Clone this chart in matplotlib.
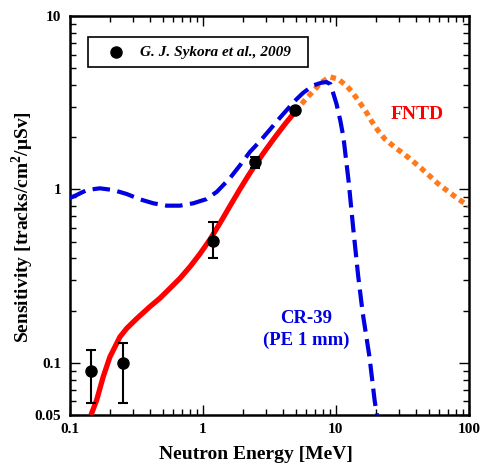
import matplotlib
matplotlib.use("Agg")
import matplotlib.pyplot as plt
from matplotlib.patches import Rectangle
from matplotlib.ticker import FixedLocator, FixedFormatter, LogLocator, NullFormatter

plt.rcParams['font.family'] = ['Liberation Serif', 'DejaVu Serif']
plt.rcParams['mathtext.fontset'] = 'custom'
plt.rcParams['mathtext.rm'] = 'Liberation Serif:bold'
plt.rcParams['mathtext.bf'] = 'Liberation Serif:bold'

# FNTD response, fitted region (solid)
fntd_fit_E = [0.145, 0.160, 0.179, 0.201, 0.239, 0.269, 0.320, 0.402, 0.478, 0.568,
              0.675, 0.803, 0.954, 1.134, 1.349, 1.60, 1.90, 2.20, 2.49, 2.94, 3.49,
              4.15, 4.95]
fntd_fit_S = [0.050, 0.061, 0.083, 0.108, 0.141, 0.158, 0.180, 0.211, 0.236, 0.269,
              0.307, 0.358, 0.425, 0.514, 0.639, 0.800, 1.000, 1.20, 1.39, 1.67, 2.00,
              2.38, 2.81]

# FNTD response, extrapolated region (dotted)
fntd_ext_E = [4.95, 5.9, 6.8, 7.7, 9.0, 10.4, 12.1, 13.5, 15.2, 17.0, 18.6, 20.8, 23.4,
              28.0, 32.5, 37.7, 44.0, 51.0, 58.5, 69.0, 80.0, 93.0, 100.0]
fntd_ext_S = [2.81, 3.30, 3.70, 4.12, 4.46, 4.33, 3.95, 3.58, 3.15, 2.78, 2.47, 2.18,
              1.95, 1.74, 1.60, 1.46, 1.32, 1.19, 1.08, 0.98, 0.90, 0.83, 0.80]

# CR-39 with 1 mm polyethylene radiator
cr39_E = [0.100, 0.113, 0.135, 0.169, 0.213, 0.269, 0.338, 0.426, 0.536, 0.675, 0.851,
          1.07, 1.28, 1.60, 1.91, 2.27, 2.70, 3.21, 3.82, 4.54, 5.04, 5.67, 6.76, 7.85,
          8.5, 9.1, 9.55, 10.1, 10.8, 11.4, 12.5, 13.5, 14.7, 15.9, 17.9, 19.6, 20.4]
cr39_S = [0.890, 0.928, 0.992, 1.015, 0.992, 0.941, 0.877, 0.832, 0.806, 0.806, 0.832,
          0.880, 0.970, 1.160, 1.380, 1.65, 1.90, 2.22, 2.60, 3.02, 3.30, 3.60, 3.98, 4.13,
          4.16, 4.05, 3.60, 3.13, 2.50, 2.01, 1.10, 0.60, 0.32, 0.195, 0.108, 0.060, 0.050]

# Measured points with error bars
meas_E = [0.144, 0.251, 1.19, 2.49, 4.93]
meas_S = [0.090, 0.100, 0.505, 1.43, 2.88]
meas_lo = [0.059, 0.059, 0.404, 1.33, 2.80]
meas_hi = [0.119, 0.130, 0.647, 1.53, 2.96]
meas_label = 'G. J. Sykora et al., 2009'

x_ticks = [0.1, 1, 10, 100]
x_ticklabels = ['0.1', '1', '10', '100']
y_ticks = [0.05, 0.1, 1, 10]
y_ticklabels = ['0.05', '0.1', '1', '10']

fig = plt.figure(figsize=(4.81, 4.65), dpi=100)
ax = fig.add_axes([0.1445, 0.1075, 0.8305, 0.858])
ax.set_xscale('log')
ax.set_yscale('log')
ax.set_xlim(0.1, 100)
ax.set_ylim(0.05, 10)

ax.plot(cr39_E, cr39_S, color='#0000e0', lw=3.0, dashes=(4.2, 1.8), zorder=3)
ax.plot(fntd_ext_E, fntd_ext_S, color='#ff7a1a', lw=3.8, dashes=(1.05, 0.85),
        dash_capstyle='butt', zorder=2)
ax.plot(fntd_fit_E, fntd_fit_S, color='#ff0000', lw=3.8, solid_capstyle='butt', zorder=4)

yerr = [[s - l for s, l in zip(meas_S, meas_lo)], [h - s for s, h in zip(meas_S, meas_hi)]]
ax.errorbar(meas_E, meas_S, yerr=yerr, fmt='o', color='black', ms=8, elinewidth=1.5,
            capsize=3.5, capthick=1.5, zorder=5)

# Legend box for the measured data
ax.add_patch(Rectangle((0.0463, 0.872), 0.5507, 0.075, transform=ax.transAxes,
                       facecolor='white', edgecolor='black', lw=1.2, zorder=6))
ax.plot([0.1164], [0.9097], 'o', color='black', ms=8, transform=ax.transAxes,
        zorder=7, clip_on=False)
ax.text(0.1765, 0.9097, meas_label, transform=ax.transAxes, fontsize=11,
        fontstyle='italic', fontweight='bold', ha='left', va='center', zorder=7)

ax.text(40.6, 2.69, 'FNTD', color='#ff0000', fontsize=14, fontweight='bold',
        ha='center', va='center')
ax.text(5.97, 0.155, 'CR-39\n(PE 1 mm)', color='#0000e0', fontsize=13.5,
        fontweight='bold', ha='center', va='center', linespacing=1.35)

ax.xaxis.set_major_locator(FixedLocator(x_ticks))
ax.xaxis.set_major_formatter(FixedFormatter(x_ticklabels))
ax.xaxis.set_minor_locator(LogLocator(base=10, subs=range(2, 10)))
ax.xaxis.set_minor_formatter(NullFormatter())
ax.yaxis.set_major_locator(FixedLocator(y_ticks))
ax.yaxis.set_major_formatter(FixedFormatter(y_ticklabels))
ax.yaxis.set_minor_locator(LogLocator(base=10, subs=range(2, 10)))
ax.yaxis.set_minor_formatter(NullFormatter())

ax.tick_params(which='both', direction='in', top=True, right=True, width=1.0)
ax.tick_params(which='major', length=7, labelsize=11, pad=6)
ax.tick_params(which='minor', length=4.5)
for lab in ax.get_xticklabels() + ax.get_yticklabels():
    lab.set_fontweight('bold')
for sp in ax.spines.values():
    sp.set_linewidth(1.8)

xl = ax.set_xlabel('Neutron Energy [MeV]', fontsize=14, fontweight='bold')
xl.set_va('center')
ax.xaxis.set_label_coords(0.4656, -0.1)
yl = ax.set_ylabel(r'Sensitivity [tracks/cm$^{2}$/$\mathrm{\mu}$Sv]', fontsize=14,
                   fontweight='bold')
yl.set_va('center')
ax.yaxis.set_label_coords(-0.116, 0.47)

fig.savefig('out.png', dpi=100)
